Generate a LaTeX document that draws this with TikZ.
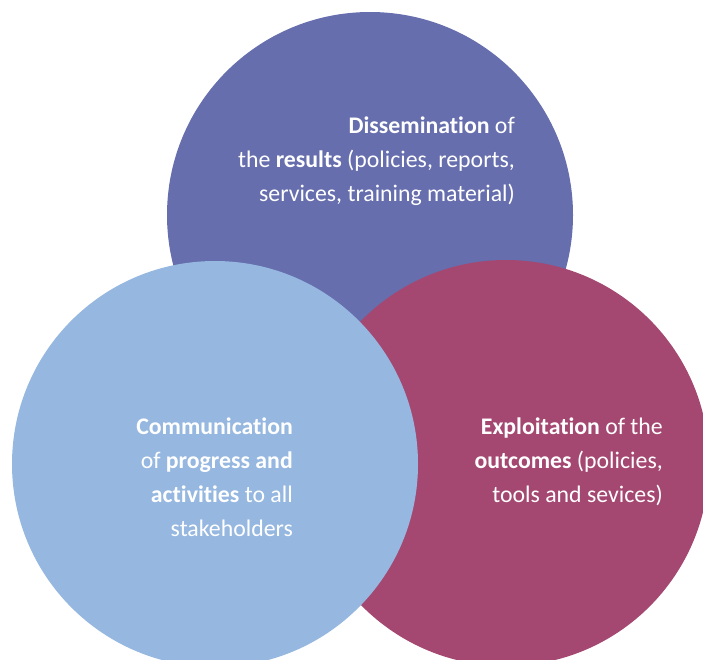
\documentclass[tikz,border=0pt]{standalone}
\usepackage{fontspec}
\setmainfont{Carlito}[Ligatures=NoCommon]
\definecolor{dissblue}{RGB}{102,110,173}
\definecolor{commblue}{RGB}{149,183,224}
\definecolor{explred}{RGB}{164,72,114}

\begin{document}
\begin{tikzpicture}[x=1pt, y=-1pt,
    lbl/.style={text=white, align=right, inner sep=0pt, anchor=base east,
      font=\fontsize{23.8}{34}\selectfont}]
    \clip (0,0) rectangle (703,659);
    \fill[dissblue] (370,215) circle (203pt);
    \fill[explred] (506,463) circle (203pt);
    \fill[commblue] (215,464) circle (203pt);
    % base east = baseline of the last line
    \node[lbl] (diss) at (515,201) {\textbf{Dissemination} of\\the \textbf{results} (policies, reports,\\services, training material)};
    \node[lbl] (comm) at (293,536) {\textbf{Communication}\\of \textbf{progress and}\\\textbf{activities} to all\\stakeholders};
    \node[lbl] (expl) at (663,502) {\textbf{Exploitation} of the\\\textbf{outcomes} (policies,\\tools and sevices)};
\end{tikzpicture}
\end{document}
